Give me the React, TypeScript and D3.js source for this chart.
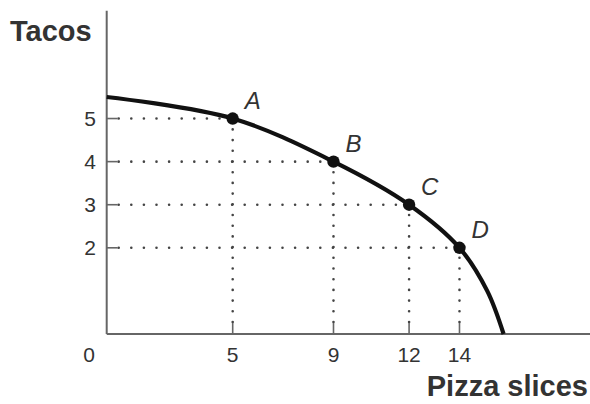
import React from 'react';
import * as d3 from 'd3';

// PPF curve (pizza slices, tacos)
const curvePizza = [0, 5, 9, 12, 14, 15.1, 15.75];
const curveTacos = [5.5, 5, 4, 3, 2, 1.0, 0];

// labelled points on the curve
const pointNames = ['A', 'B', 'C', 'D'];
const pointPizza = [5, 9, 12, 14];
const pointTacos = [5, 4, 3, 2];

const xTicks = [5, 9, 12, 14];
const yTicks = [2, 3, 4, 5];

export default function App() {
  const width = 590;
  const height = 404;

  const x = d3.scaleLinear().domain([0, 19.1]).range([106.7, 588]);
  const y = d3.scaleLinear().domain([0, 7.5]).range([334, 10.8]);

  const curveData = curvePizza.map((p, i) => [p, curveTacos[i]] as [number, number]);
  const line = d3
    .line<[number, number]>()
    .x((d) => x(d[0]))
    .y((d) => y(d[1]))
    .curve(d3.curveCatmullRom.alpha(0.5));

  const axisColor = '#666';
  const textColor = '#333';
  const font = 'Arial, "Liberation Sans", Helvetica, sans-serif';

  return (
    <svg
      width={width}
      height={height}
      style={{ position: 'absolute', left: 0, top: 0, background: '#fff' }}
      fontFamily={font}
    >
      {/* dotted guide lines */}
      {pointPizza.map((p, i) => (
        <g key={'g' + i} stroke="#444" strokeWidth={2.6} strokeLinecap="round" fill="none">
          <line x1={x(0) + 12} x2={x(p)} y1={y(pointTacos[i])} y2={y(pointTacos[i])} strokeDasharray="0 12.6" />
          <line x1={x(p)} x2={x(p)} y1={y(0) - 12} y2={y(pointTacos[i])} strokeDasharray="0 10.7" />
        </g>
      ))}

      {/* axes */}
      <line x1={x(0)} x2={x(0)} y1={y(7.5)} y2={y(0)} stroke={axisColor} strokeWidth={2} />
      <line x1={x(0)} x2={width} y1={y(0)} y2={y(0)} stroke={axisColor} strokeWidth={2} />

      {yTicks.map((t) => (
        <g key={'yt' + t}>
          <line x1={x(0)} x2={x(0) + 11} y1={y(t)} y2={y(t)} stroke={axisColor} strokeWidth={1.6} />
          <text x={96} y={y(t)} dy="0.36em" textAnchor="end" fontSize={21} fill={textColor}>
            {t}
          </text>
        </g>
      ))}
      {xTicks.map((t) => (
        <g key={'xt' + t}>
          <line x1={x(t)} x2={x(t)} y1={y(0)} y2={y(0) - 11} stroke={axisColor} strokeWidth={1.6} />
          <text x={x(t)} y={362} textAnchor="middle" fontSize={21} fill={textColor}>
            {t}
          </text>
        </g>
      ))}
      <text x={89} y={362} textAnchor="middle" fontSize={21} fill={textColor}>
        0
      </text>

      {/* PPF curve */}
      <path d={line(curveData) || ''} fill="none" stroke="#111" strokeWidth={4.2} />

      {pointPizza.map((p, i) => (
        <g key={'p' + i}>
          <circle cx={x(p)} cy={y(pointTacos[i])} r={6.2} fill="#111" />
          <text
            x={x(p) + 12}
            y={y(pointTacos[i]) - 10}
            fontSize={24}
            fontStyle="italic"
            fill={textColor}
          >
            {pointNames[i]}
          </text>
        </g>
      ))}

      {/* axis titles */}
      <text x={10} y={41} fontSize={29} fontWeight="bold" fill={textColor}>
        Tacos
      </text>
      <text x={588} y={396} textAnchor="end" fontSize={29} fontWeight="bold" fill={textColor}>
        Pizza slices
      </text>
    </svg>
  );
}
